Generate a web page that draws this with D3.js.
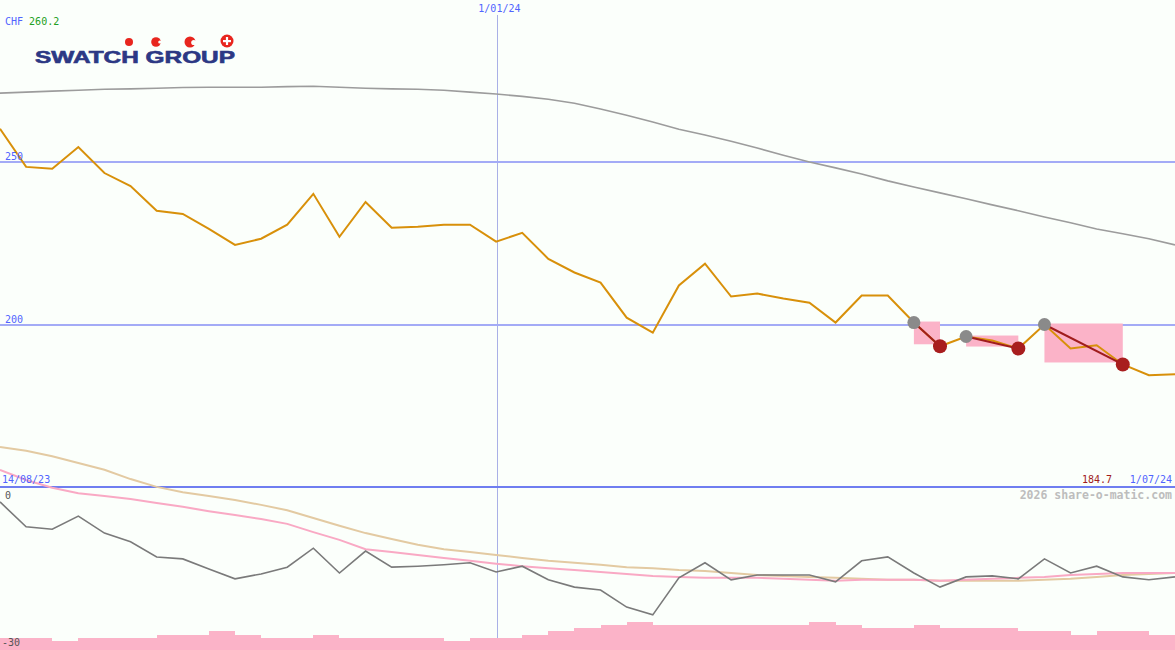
<!DOCTYPE html>
<html>
<head>
<meta charset="utf-8">
<script src="https://cdn.jsdelivr.net/npm/d3@7/dist/d3.min.js"></script>
<style>
  html, body { margin: 0; padding: 0; background: #fbfffb; }
  svg { display: block; }
</style>
</head>
<body>
<svg id="chart" width="1175" height="650"></svg>
<script>
// ---------------- DATA ----------------
const startLabel = "14/08/23";
const endLabel = "1/07/24";
const midLabel = "1/01/24";
const midIndex = 19.05;            // position of 1/01/24 along the weekly index
const currency = "CHF";
const topValueLabel = "260.2";
const lastValueLabel = "184.7";
const priceTicks = [250, 200];
const oscTicks = [0, -30];

// weekly closing price (CHF)
const price = [260.2, 248.5, 247.9, 254.6, 246.6, 242.6, 235.0, 234.0, 229.4, 224.5,
               226.4, 230.7, 240.2, 227.0, 237.7, 229.8, 230.1, 230.7, 230.7, 225.5,
               228.2, 220.2, 216.0, 212.9, 202.1, 197.5, 212.0, 218.7, 208.6, 209.5,
               208.0, 206.7, 200.6, 208.9, 208.9, 200.6, 193.3, 196.3, 195.1, 192.6,
               200.0, 192.6, 193.6, 187.7, 184.4, 184.7];

// long moving average (grey)
const longMA = [271.2, 271.5, 271.8, 272.1, 272.4, 272.5, 272.7, 272.9, 273.0, 273.0,
                273.0, 273.2, 273.3, 273.0, 272.7, 272.5, 272.4, 272.1, 271.5, 270.9,
                270.2, 269.3, 268.1, 266.3, 264.4, 262.3, 260.1, 258.3, 256.4, 254.3,
                252.1, 250.0, 248.2, 246.3, 244.2, 242.3, 240.5, 238.7, 236.8, 235.0,
                233.1, 231.3, 229.4, 227.9, 226.4, 224.5];

// lower panel: relative performance (grey) and its two averages (pink, tan)
const oscillator = [-0.4, -5.5, -6.0, -3.3, -6.8, -8.6, -11.7, -12.1, -14.2, -16.2,
                    -15.2, -13.8, -9.9, -15.0, -10.5, -13.8, -13.6, -13.3, -12.9, -14.8,
                    -13.6, -16.4, -17.9, -18.5, -22.0, -23.6, -16.0, -12.9, -16.4, -15.4,
                    -15.4, -15.4, -16.8, -12.5, -11.7, -15.0, -17.9, -15.8, -15.6, -16.2,
                    -12.1, -15.0, -13.6, -15.8, -16.4, -15.8];
const oscAvgPink = [6.2, 4.1, 2.5, 1.4, 0.8, 0.2, -0.6, -1.4, -2.3, -3.1,
                    -3.9, -4.9, -6.6, -8.2, -10.1, -10.7, -11.3, -11.9, -12.5, -13.1,
                    -13.6, -14.0, -14.4, -14.8, -15.2, -15.6, -15.8, -16.0, -16.0, -16.0,
                    -16.2, -16.4, -16.6, -16.4, -16.4, -16.4, -16.6, -16.4, -16.2, -16.0,
                    -15.8, -15.4, -15.2, -15.0, -15.0, -15.0];
const oscAvgTan = [10.9, 10.1, 9.0, 7.6, 6.2, 4.3, 2.7, 1.6, 0.8, 0.0,
                   -1.0, -2.1, -3.7, -5.3, -6.8, -8.0, -9.2, -10.1, -10.7, -11.3,
                   -11.9, -12.5, -12.9, -13.3, -13.8, -14.0, -14.4, -14.6, -15.0, -15.4,
                   -15.6, -15.8, -16.0, -16.2, -16.4, -16.4, -16.6, -16.6, -16.6, -16.6,
                   -16.4, -16.2, -15.8, -15.4, -15.2, -15.0];

// weekly volume (millions), one bar per interval
const volume = [1.2, 1.2, 0.9, 1.2, 1.2, 1.2, 1.5, 1.5, 1.9, 1.5,
                1.2, 1.2, 1.5, 1.2, 1.2, 1.2, 1.2, 0.9, 1.2, 1.2,
                1.5, 1.9, 2.2, 2.5, 2.8, 2.5, 2.5, 2.5, 2.5, 2.5,
                2.5, 2.8, 2.5, 2.2, 2.2, 2.5, 2.2, 2.2, 2.2, 1.9,
                1.9, 1.5, 1.9, 1.9, 1.5];

// signal pairs: [peak index (grey), trough index (red)]
const signalPairs = [[35, 36], [37, 39], [40, 43]];

// ---------------- SCALES ----------------
const W = 1175, H = 650;
const svg = d3.select("#chart");
const x = d3.scaleLinear().domain([0, price.length - 1]).range([0, W]);
const y = d3.scaleLinear().domain([150, 250]).range([487, 162]);
const yOsc = d3.scaleLinear().domain([-30, 0]).range([646, 500]);
const yVol = d3.scaleLinear().domain([0, 3]).range([650, 620]);

const mono = "'DejaVu Sans Mono', monospace";

svg.append("rect").attr("width", W).attr("height", H).attr("fill", "#fbfffb");

// vertical year line
svg.append("line")
  .attr("x1", Math.round(x(midIndex)) + 0.5).attr("x2", Math.round(x(midIndex)) + 0.5)
  .attr("y1", 15).attr("y2", 640)
  .attr("stroke", "#a9b0e6").attr("stroke-width", 1);

// price grid lines
svg.selectAll(".grid").data(priceTicks).enter().append("line")
  .attr("x1", 0).attr("x2", W)
  .attr("y1", d => y(d)).attr("y2", d => y(d))
  .attr("stroke", "#a3abf6").attr("stroke-width", 2)
  .attr("shape-rendering", "crispEdges");
// panel divider (base of price scale)
svg.append("line")
  .attr("x1", 0).attr("x2", W).attr("y1", y(150)).attr("y2", y(150))
  .attr("stroke", "#6f7ef0").attr("stroke-width", 2)
  .attr("shape-rendering", "crispEdges");

// volume bars
svg.selectAll(".vol").data(volume).enter().append("rect")
  .attr("x", (d, i) => Math.round(x(i)))
  .attr("width", (d, i) => Math.round(x(i + 1)) - Math.round(x(i)))
  .attr("y", d => Math.round(yVol(d)))
  .attr("height", d => H - Math.round(yVol(d)))
  .attr("fill", "#fbb3c8")
  .attr("shape-rendering", "crispEdges");

// lower panel lines
const lineOsc = d3.line().x((d, i) => x(i)).y(d => yOsc(d));
svg.append("path").datum(oscAvgTan).attr("d", lineOsc)
  .attr("fill", "none").attr("stroke", "#e3caa2").attr("stroke-width", 2);
svg.append("path").datum(oscAvgPink).attr("d", lineOsc)
  .attr("fill", "none").attr("stroke", "#f9a9c4").attr("stroke-width", 2);
svg.append("path").datum(oscillator).attr("d", lineOsc)
  .attr("fill", "none").attr("stroke", "#7a7a7a").attr("stroke-width", 1.6);

// long MA
const linePrice = d3.line().x((d, i) => x(i)).y(d => y(d));
svg.append("path").datum(longMA).attr("d", linePrice)
  .attr("fill", "none").attr("stroke", "#9c9c9c").attr("stroke-width", 1.6);

// signal rectangles
svg.selectAll(".sigrect").data(signalPairs).enter().append("rect")
  .attr("x", d => x(d[0]))
  .attr("width", d => x(d[1]) - x(d[0]))
  .attr("y", d => y(price[d[0]]) - 1)
  .attr("height", d => y(price[d[1]]) - y(price[d[0]]) - 1)
  .attr("fill", "#fbb3c8");

// price line
svg.append("path").datum(price).attr("d", linePrice)
  .attr("fill", "none").attr("stroke", "#d8900a").attr("stroke-width", 2);

// signal lines
svg.selectAll(".sigline").data(signalPairs).enter().append("line")
  .attr("x1", d => x(d[0])).attr("y1", d => y(price[d[0]]))
  .attr("x2", d => x(d[1])).attr("y2", d => y(price[d[1]]))
  .attr("stroke", "#a01c1c").attr("stroke-width", 2);

// markers
svg.selectAll(".peak").data(signalPairs).enter().append("circle")
  .attr("cx", d => x(d[0])).attr("cy", d => y(price[d[0]]))
  .attr("r", 6.5).attr("fill", "#8a8a8a");
svg.selectAll(".trough").data(signalPairs).enter().append("circle")
  .attr("cx", d => x(d[1])).attr("cy", d => y(price[d[1]]))
  .attr("r", 7).attr("fill", "#a81e1e");

// ---------------- TEXT ----------------
function txt(str, tx, ty, color, anchor, size, weight) {
  svg.append("text").attr("x", tx).attr("y", ty).text(str)
    .attr("fill", color).attr("font-family", mono)
    .attr("font-size", size || 10).attr("text-anchor", anchor || "start")
    .attr("font-weight", weight || "normal");
}
const ct = svg.append("text").attr("x", 5).attr("y", 25)
  .attr("font-family", mono).attr("font-size", 10);
ct.append("tspan").attr("fill", "#5064ff").text(currency + " ");
ct.append("tspan").attr("fill", "#22a022").text(topValueLabel);

txt(midLabel, x(midIndex) + 2, 12, "#5064ff", "middle");
priceTicks.forEach(t => txt(String(t), 5, y(t) - 2, "#5064ff"));
txt(startLabel, 2, 483, "#5064ff");
txt(lastValueLabel, 1112, 483, "#a01c1c", "end");
txt(endLabel, 1172, 483, "#5064ff", "end");
txt("2026 share-o-matic.com", 1172, 499, "#bdbdbd", "end", 11.5, "bold");
txt(String(oscTicks[0]), 5, yOsc(oscTicks[0]) - 1, "#555555");
txt(String(oscTicks[1]), 2, yOsc(oscTicks[1]), "#555555");

// ---------------- LOGO ----------------
const logo = svg.append("g");
logo.append("text").attr("x", 35).attr("y", 63)
  .attr("font-family", "'Liberation Sans', Arial, sans-serif")
  .attr("font-weight", "bold").attr("font-size", 17)
  .attr("textLength", 200).attr("lengthAdjust", "spacingAndGlyphs")
  .attr("fill", "#2c3884").attr("stroke", "#2c3884").attr("stroke-width", 0.6)
  .text("SWATCH GROUP");
const red = "#e8261e";
logo.append("circle").attr("cx", 129).attr("cy", 42).attr("r", 4).attr("fill", red);
logo.append("circle").attr("cx", 156).attr("cy", 42).attr("r", 4.8).attr("fill", red);
logo.append("circle").attr("cx", 159.8).attr("cy", 42).attr("r", 1.6).attr("fill", "#fbfffb");
logo.append("circle").attr("cx", 190).attr("cy", 42).attr("r", 5.5).attr("fill", red);
logo.append("circle").attr("cx", 193.8).attr("cy", 42.5).attr("r", 2.6).attr("fill", "#fbfffb");
logo.append("circle").attr("cx", 227).attr("cy", 41).attr("r", 6.5).attr("fill", red);
logo.append("rect").attr("x", 223).attr("y", 40).attr("width", 8).attr("height", 2.2).attr("fill", "#ffffff");
logo.append("rect").attr("x", 225.9).attr("y", 37).attr("width", 2.2).attr("height", 8).attr("fill", "#ffffff");
</script>
</body>
</html>
